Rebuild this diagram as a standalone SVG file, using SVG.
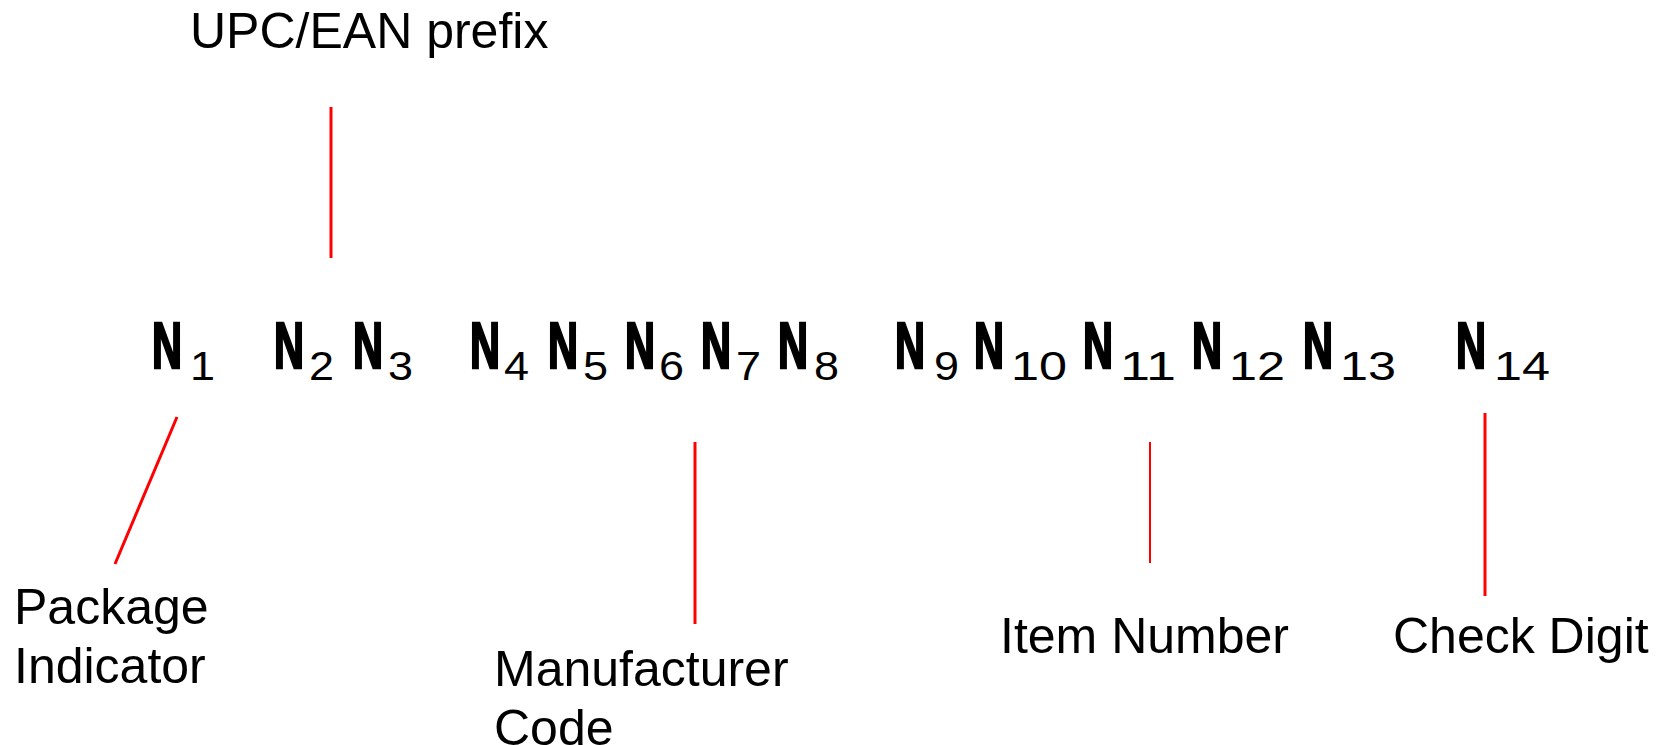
<svg xmlns="http://www.w3.org/2000/svg" width="1673" height="745" viewBox="0 0 1673 745">
  <style>
    .lbl { font-family: "Liberation Sans", Arial, sans-serif; font-size: 50px; fill: #000; }
    .n { font-family: "Liberation Sans", Arial, sans-serif; font-size: 64px; font-weight: bold; fill: #000; stroke: #000; stroke-width: 2.5px; }
    .sub { font-family: "Liberation Sans", Arial, sans-serif; font-size: 40px; fill: #000; }
    .conn { stroke: #ff0000; stroke-width: 3; fill: none; }
  </style>
  <rect width="1673" height="745" fill="#ffffff"/>

  <g id="label-prefix">
    <text class="lbl" x="190" y="48">UPC/EAN prefix</text>
  </g>

  <g id="digits">
    <text class="n" x="152" y="368" textLength="30" lengthAdjust="spacingAndGlyphs">N</text>
    <text class="sub" x="190" y="380" textLength="25" lengthAdjust="spacingAndGlyphs">1</text>
    <text class="n" x="274" y="368" textLength="30" lengthAdjust="spacingAndGlyphs">N</text>
    <text class="sub" x="309" y="380" textLength="25" lengthAdjust="spacingAndGlyphs">2</text>
    <text class="n" x="353" y="368" textLength="30" lengthAdjust="spacingAndGlyphs">N</text>
    <text class="sub" x="388" y="380" textLength="25" lengthAdjust="spacingAndGlyphs">3</text>
    <text class="n" x="470" y="368" textLength="30" lengthAdjust="spacingAndGlyphs">N</text>
    <text class="sub" x="504" y="380" textLength="25" lengthAdjust="spacingAndGlyphs">4</text>
    <text class="n" x="548" y="368" textLength="30" lengthAdjust="spacingAndGlyphs">N</text>
    <text class="sub" x="583" y="380" textLength="25" lengthAdjust="spacingAndGlyphs">5</text>
    <text class="n" x="625" y="368" textLength="30" lengthAdjust="spacingAndGlyphs">N</text>
    <text class="sub" x="659" y="380" textLength="25" lengthAdjust="spacingAndGlyphs">6</text>
    <text class="n" x="701" y="368" textLength="30" lengthAdjust="spacingAndGlyphs">N</text>
    <text class="sub" x="736" y="380" textLength="25" lengthAdjust="spacingAndGlyphs">7</text>
    <text class="n" x="778" y="368" textLength="30" lengthAdjust="spacingAndGlyphs">N</text>
    <text class="sub" x="814" y="380" textLength="25" lengthAdjust="spacingAndGlyphs">8</text>
    <text class="n" x="895" y="368" textLength="30" lengthAdjust="spacingAndGlyphs">N</text>
    <text class="sub" x="934" y="380" textLength="25" lengthAdjust="spacingAndGlyphs">9</text>
    <text class="n" x="974" y="368" textLength="30" lengthAdjust="spacingAndGlyphs">N</text>
    <text class="sub" x="1011" y="380" textLength="56" lengthAdjust="spacingAndGlyphs">10</text>
    <text class="n" x="1083" y="368" textLength="30" lengthAdjust="spacingAndGlyphs">N</text>
    <text class="sub" x="1120" y="380" textLength="56" lengthAdjust="spacingAndGlyphs">11</text>
    <text class="n" x="1192" y="368" textLength="30" lengthAdjust="spacingAndGlyphs">N</text>
    <text class="sub" x="1229" y="380" textLength="56" lengthAdjust="spacingAndGlyphs">12</text>
    <text class="n" x="1303" y="368" textLength="30" lengthAdjust="spacingAndGlyphs">N</text>
    <text class="sub" x="1340" y="380" textLength="56" lengthAdjust="spacingAndGlyphs">13</text>
    <text class="n" x="1456" y="368" textLength="30" lengthAdjust="spacingAndGlyphs">N</text>
    <text class="sub" x="1494" y="380" textLength="56" lengthAdjust="spacingAndGlyphs">14</text>
  </g>

  <g id="connectors">
    <line class="conn" x1="331" y1="107" x2="331" y2="258"/>
    <line class="conn" x1="177" y1="417" x2="115" y2="564"/>
    <line class="conn" x1="695" y1="442" x2="695" y2="624"/>
    <line class="conn" x1="1150" y1="442" x2="1150" y2="563" style="stroke-width:2"/>
    <line class="conn" x1="1485" y1="413" x2="1485" y2="596"/>
  </g>

  <g id="label-package">
    <text class="lbl" x="14" y="624">Package</text>
    <text class="lbl" x="14" y="683">Indicator</text>
  </g>

  <g id="label-manufacturer">
    <text class="lbl" x="494" y="686">Manufacturer</text>
    <text class="lbl" x="494" y="745">Code</text>
  </g>

  <g id="label-item">
    <text class="lbl" x="1000" y="653">Item Number</text>
  </g>

  <g id="label-check">
    <text class="lbl" x="1393" y="653">Check Digit</text>
  </g>
</svg>
